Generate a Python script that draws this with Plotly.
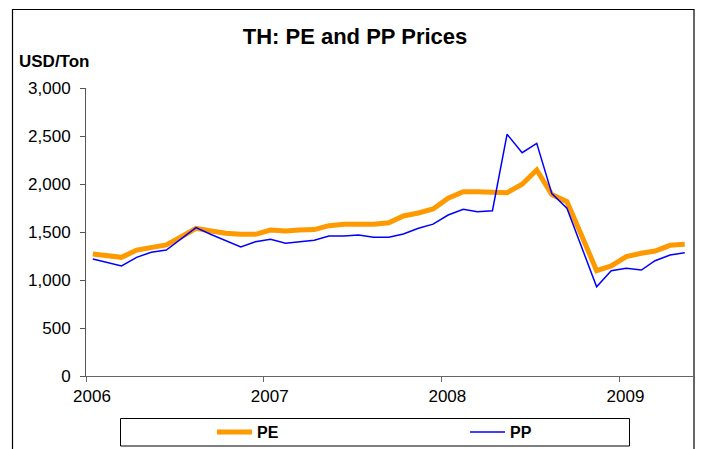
import plotly.graph_objects as go
import pandas as pd

months = pd.date_range("2006-01-01", "2009-05-01", freq="MS") + pd.Timedelta(days=14)
months = [d.strftime("%Y-%m-%d") for d in months]

pe = [1271, 1255, 1236, 1312, 1344, 1365, 1448, 1538, 1510, 1486, 1476, 1476,
      1521, 1510, 1521, 1525, 1566, 1580, 1580, 1580, 1597, 1667, 1698, 1740,
      1851, 1920, 1920, 1909, 1909, 1997, 2146, 1890, 1816, 1466, 1097, 1146,
      1243, 1278, 1302, 1361, 1372]
pp = [1219, 1182, 1146, 1236, 1289, 1312, 1427, 1545, 1474, 1408, 1344, 1399,
      1424, 1382, 1399, 1415, 1458, 1458, 1469, 1445, 1445, 1479, 1539, 1582,
      1677, 1736, 1711, 1722, 2518, 2326, 2424, 1900, 1747, 1339, 930, 1097,
      1122, 1104, 1201, 1260, 1284]

tick_vals = [0, 500, 1000, 1500, 2000, 2500, 3000]
tick_text = ["0", "500", "1,000", "1,500", "2,000", "2,500", "3,000"]

W, H = 701, 449
L, R, T, B = 86, 693, 88, 376


def px(x):
    return (x - L) / (R - L)


def py(y):
    return (B - y) / (B - T)


fig = go.Figure()
fig.add_trace(go.Scatter(x=months, y=pe, name="PE", mode="lines",
                         line=dict(color="#FF9900", width=5)))
fig.add_trace(go.Scatter(x=months, y=pp, name="PP", mode="lines",
                         line=dict(color="#0000FF", width=1.5)))

fig.update_layout(
    width=W, height=H,
    margin=dict(l=L, r=W - R, t=T, b=H - B, autoexpand=False),
    paper_bgcolor="white", plot_bgcolor="white",
    font=dict(family="Arial, Liberation Sans", color="black", size=17),
    title=dict(text="TH: PE and PP Prices", x=355 / W, xanchor="center",
               xref="container", y=1 - 36 / H, yanchor="middle", yref="container",
               font=dict(size=22, color="black", weight="bold")),
    showlegend=True,
    legend=dict(orientation="h", x=px(212), xanchor="left", y=py(432), yanchor="middle",
                font=dict(size=16, color="black", weight="bold"), entrywidth=203,
                bgcolor="rgba(0,0,0,0)", borderwidth=0, itemwidth=35),
    xaxis=dict(type="date", range=["2006-01-01", "2009-06-01"], dtick="M12",
               tick0="2006-01-01", tickformat="%Y", showgrid=False,
               showline=True, linecolor="#666666", linewidth=1,
               ticks="outside", ticklen=5, tickcolor="#666666",
               tickfont=dict(size=17), zeroline=False, ticklabelshift=6),
    yaxis=dict(range=[0, 3000], tickvals=tick_vals, ticktext=tick_text,
               showgrid=False, showline=True, linecolor="#555555", linewidth=1,
               ticks="outside", ticklen=5, tickcolor="#555555",
               tickfont=dict(size=17), zeroline=False, ticklabelstandoff=6),
    annotations=[dict(text="<b>USD/Ton</b>", xref="paper", yref="paper",
                      x=px(17), y=py(61), xanchor="left", yanchor="middle",
                      showarrow=False, font=dict(size=17, color="black"))],
    shapes=[
        dict(type="rect", xref="paper", yref="paper", x0=px(12.5), x1=px(694),
             y0=py(455), y1=py(9.5), line=dict(color="black", width=1.2),
             fillcolor="rgba(0,0,0,0)", layer="above"),
        dict(type="rect", xref="paper", yref="paper", x0=px(120.5), x1=px(629.5),
             y0=py(446), y1=py(418.5), line=dict(color="black", width=1),
             fillcolor="rgba(0,0,0,0)", layer="above"),
    ],
)

fig.write_html("out.html", config={"displayModeBar": False},
               post_script="document.body.style.margin='0';document.body.style.overflow='hidden';")
